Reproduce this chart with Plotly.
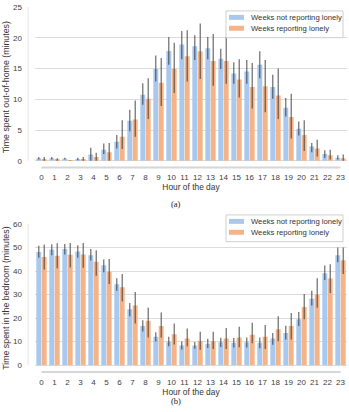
import plotly.graph_objects as go
from plotly.subplots import make_subplots

hours = list(range(24))
hour_labels = [str(h) for h in hours]

# (a) out-of-home time, minutes per hour
out_not_lonely = [0.4, 0.4, 0.35, 0.3, 1.0, 1.8, 3.1, 6.5, 10.75, 14.9, 17.85, 18.9,
                  18.6, 18.3, 16.6, 14.2, 14.5, 15.6, 12.0, 8.6, 5.2, 2.3, 1.1, 0.5]
out_not_lonely_hi = [0.6, 0.6, 0.5, 0.5, 2.1, 2.8, 4.2, 8.3, 12.6, 17.1, 20.1, 21.1,
                     20.4, 20.1, 18.2, 16.0, 16.4, 17.8, 14.0, 10.2, 6.4, 2.9, 1.7, 0.9]
out_not_lonely_lo = [0.2, 0.2, 0.2, 0.1, 0.0, 1.1, 2.0, 4.8, 9.1, 12.9, 15.6, 16.5,
                     16.4, 16.5, 14.9, 12.5, 12.5, 13.4, 10.1, 7.2, 4.1, 1.4, 0.5, 0.2]
out_lonely = [0.3, 0.15, 0.05, 0.2, 0.6, 1.4, 3.9, 6.7, 10.1, 12.7, 14.9, 17.0,
              17.8, 16.2, 16.2, 13.2, 12.0, 12.1, 10.6, 7.1, 4.2, 2.0, 0.9, 0.4]
out_lonely_hi = [0.6, 0.4, 0.1, 0.6, 1.3, 2.9, 6.6, 9.8, 13.4, 16.7, 19.2, 21.2,
                 22.3, 20.6, 20.2, 16.5, 15.9, 16.4, 15.0, 10.9, 6.6, 3.4, 1.8, 1.0]
out_lonely_lo = [0.0, 0.0, 0.0, 0.0, 0.0, 0.0, 1.9, 3.9, 6.8, 8.9, 11.0, 12.9,
                 13.3, 12.2, 12.5, 10.3, 8.5, 7.9, 6.8, 3.6, 1.6, 0.7, 0.2, 0.0]

# (b) bedroom time, minutes per hour
bed_not_lonely = [48.2, 49.2, 49.4, 48.4, 46.8, 42.5, 34.4, 23.8, 16.7, 12.1, 10.0, 8.4,
                  8.4, 9.1, 9.7, 9.5, 9.7, 9.5, 11.4, 13.7, 19.5, 28.3, 39.1, 46.8]
bed_not_lonely_hi = [50.8, 51.5, 51.6, 51.0, 49.4, 45.0, 37.0, 26.5, 19.1, 14.0, 12.1, 10.1,
                     9.9, 11.2, 11.7, 11.6, 11.8, 11.8, 13.7, 16.8, 22.6, 31.7, 42.4, 50.1]
bed_not_lonely_lo = [45.7, 46.8, 47.1, 45.7, 44.5, 39.5, 31.7, 20.8, 14.3, 10.1, 8.0, 6.7,
                     7.0, 7.3, 7.7, 7.5, 7.5, 7.2, 8.7, 10.9, 16.7, 25.4, 36.2, 43.8]
bed_lonely = [46.0, 46.6, 47.0, 47.1, 44.0, 39.8, 33.2, 25.4, 18.9, 16.7, 13.2, 11.4,
              10.4, 10.2, 11.4, 11.8, 12.9, 12.1, 15.3, 16.7, 24.7, 30.0, 36.9, 44.6]
bed_lonely_hi = [51.3, 51.9, 52.0, 52.0, 48.9, 45.2, 38.8, 31.1, 24.4, 22.4, 17.7, 15.6,
                 14.2, 14.2, 15.8, 16.3, 18.0, 17.1, 20.8, 22.2, 30.3, 37.0, 42.9, 50.1]
bed_lonely_lo = [40.7, 41.2, 41.6, 41.5, 38.1, 34.5, 27.2, 17.7, 11.8, 11.8, 8.8, 8.0,
                 6.6, 6.9, 6.9, 7.6, 9.3, 6.9, 10.2, 10.9, 19.5, 24.4, 30.7, 38.8]

series_names = ["Weeks not reporting lonely", "Weeks reporting lonely"]

BLUE = "#a9c8ee"
ORANGE = "#f5b488"
ERR = "rgba(50,50,50,0.8)"
GRID = "#dcdcdc"
FONT = "Liberation Sans, Arial, sans-serif"
W, H = 349, 412
ML, MR = 35, 2
PW = W - ML - MR


def px_x(px):
    return (px - ML) / PW


def px_y(py):
    return 1 - py / H


def err(mean, hi, lo):
    return dict(type="data", symmetric=False,
                array=[h - m for h, m in zip(hi, mean)],
                arrayminus=[m - l for m, l in zip(mean, lo)],
                color=ERR, thickness=1.1, width=0)


fig = make_subplots(rows=2, cols=1)

panels = [
    (1, [(out_not_lonely, out_not_lonely_hi, out_not_lonely_lo, BLUE),
         (out_lonely, out_lonely_hi, out_lonely_lo, ORANGE)]),
    (2, [(bed_not_lonely, bed_not_lonely_hi, bed_not_lonely_lo, BLUE),
         (bed_lonely, bed_lonely_hi, bed_lonely_lo, ORANGE)]),
]
for row, series in panels:
    for name, (mean, hi, lo, color) in zip(series_names, series):
        fig.add_trace(go.Bar(x=hours, y=mean, name=name, marker_color=color,
                             marker_line_width=0, error_y=err(mean, hi, lo),
                             showlegend=False), row=row, col=1)

axis_font = dict(family=FONT, size=8, color="#404040")
ytitle_font = dict(family=FONT, size=8.8, color="#333333")
xtitle_font = dict(family=FONT, size=8.4, color="#333333")

fig.update_xaxes(tickmode="array", tickvals=hours, ticktext=hour_labels, tickangle=0,
                 range=[-0.5, 23.5], showgrid=False, zeroline=False, showline=False,
                 ticks="", tickfont=axis_font, ticklabelstandoff=4,
                 title=dict(text="Hour of the day", font=xtitle_font, standoff=0))
fig.update_yaxes(showgrid=True, gridcolor=GRID, gridwidth=1, zeroline=False,
                 showline=False, ticks="", tickfont=axis_font, ticklabelstandoff=12)

fig.update_yaxes(range=[-1.08, 25], dtick=5, row=1, col=1,
                 title=dict(text="Time spent out-of-home (minutes)", font=ytitle_font, standoff=2))
fig.update_yaxes(range=[-2.95, 60], dtick=10, row=2, col=1,
                 title=dict(text="Time spent in the bedroom (minutes)", font=ytitle_font, standoff=2))

fig.update_layout(
    width=W, height=H,
    margin=dict(l=ML, r=MR, t=0, b=0),
    paper_bgcolor="white", plot_bgcolor="white",
    barmode="group", bargap=0.17, bargroupgap=0.08,
    xaxis=dict(domain=[0, 1]),
    yaxis=dict(domain=[0.5995, 0.9927]),
    xaxis2=dict(domain=[0, 1]),
    yaxis2=dict(domain=[0.0978, 0.4604]),
    font=dict(family=FONT),
)

# axis baselines spanning the hour range, and the faint left axis rules
for xr, yr, top in (("x", "y", 25), ("x2", "y2", 60)):
    fig.add_shape(type="line", xref=xr, yref=yr + " domain",
                  x0=hours[0], x1=hours[-1], y0=0, y1=0,
                  line=dict(color="#d6d6d6", width=2))
    fig.add_shape(type="line", xref=xr + " domain", yref=yr,
                  x0=-0.022, x1=-0.022, y0=0, y1=top,
                  line=dict(color="#e6e6e6", width=1))

# boxed legends with wide colour swatches
for box_top in (7, 213):
    fig.add_shape(type="rect", xref="paper", yref="paper",
                  x0=px_x(226), x1=px_x(343), y0=px_y(box_top), y1=px_y(box_top + 27),
                  fillcolor="white", line=dict(color="#cfcfcf", width=1), layer="above")
    for i, (name, color) in enumerate(zip(series_names, [BLUE, ORANGE])):
        cy = box_top + 6.5 + i * 11
        fig.add_shape(type="rect", xref="paper", yref="paper",
                      x0=px_x(229), x1=px_x(244), y0=px_y(cy - 2.5), y1=px_y(cy + 2.5),
                      fillcolor=color, line=dict(width=0), layer="above")
        fig.add_annotation(text=name, xref="paper", yref="paper",
                           x=px_x(249), y=px_y(cy), xanchor="left", yanchor="middle",
                           showarrow=False,
                           font=dict(family=FONT, size=7.7, color="#333333"))

serif = dict(family="Liberation Serif, Times New Roman, serif", size=8.5, color="#222222")
fig.add_annotation(text="(a)", xref="paper", yref="paper", x=px_x(176), y=px_y(201.5),
                   showarrow=False, font=serif)
fig.add_annotation(text="(b)", xref="paper", yref="paper", x=px_x(176), y=px_y(408),
                   showarrow=False, font=serif)

fig.write_html("out.html")
